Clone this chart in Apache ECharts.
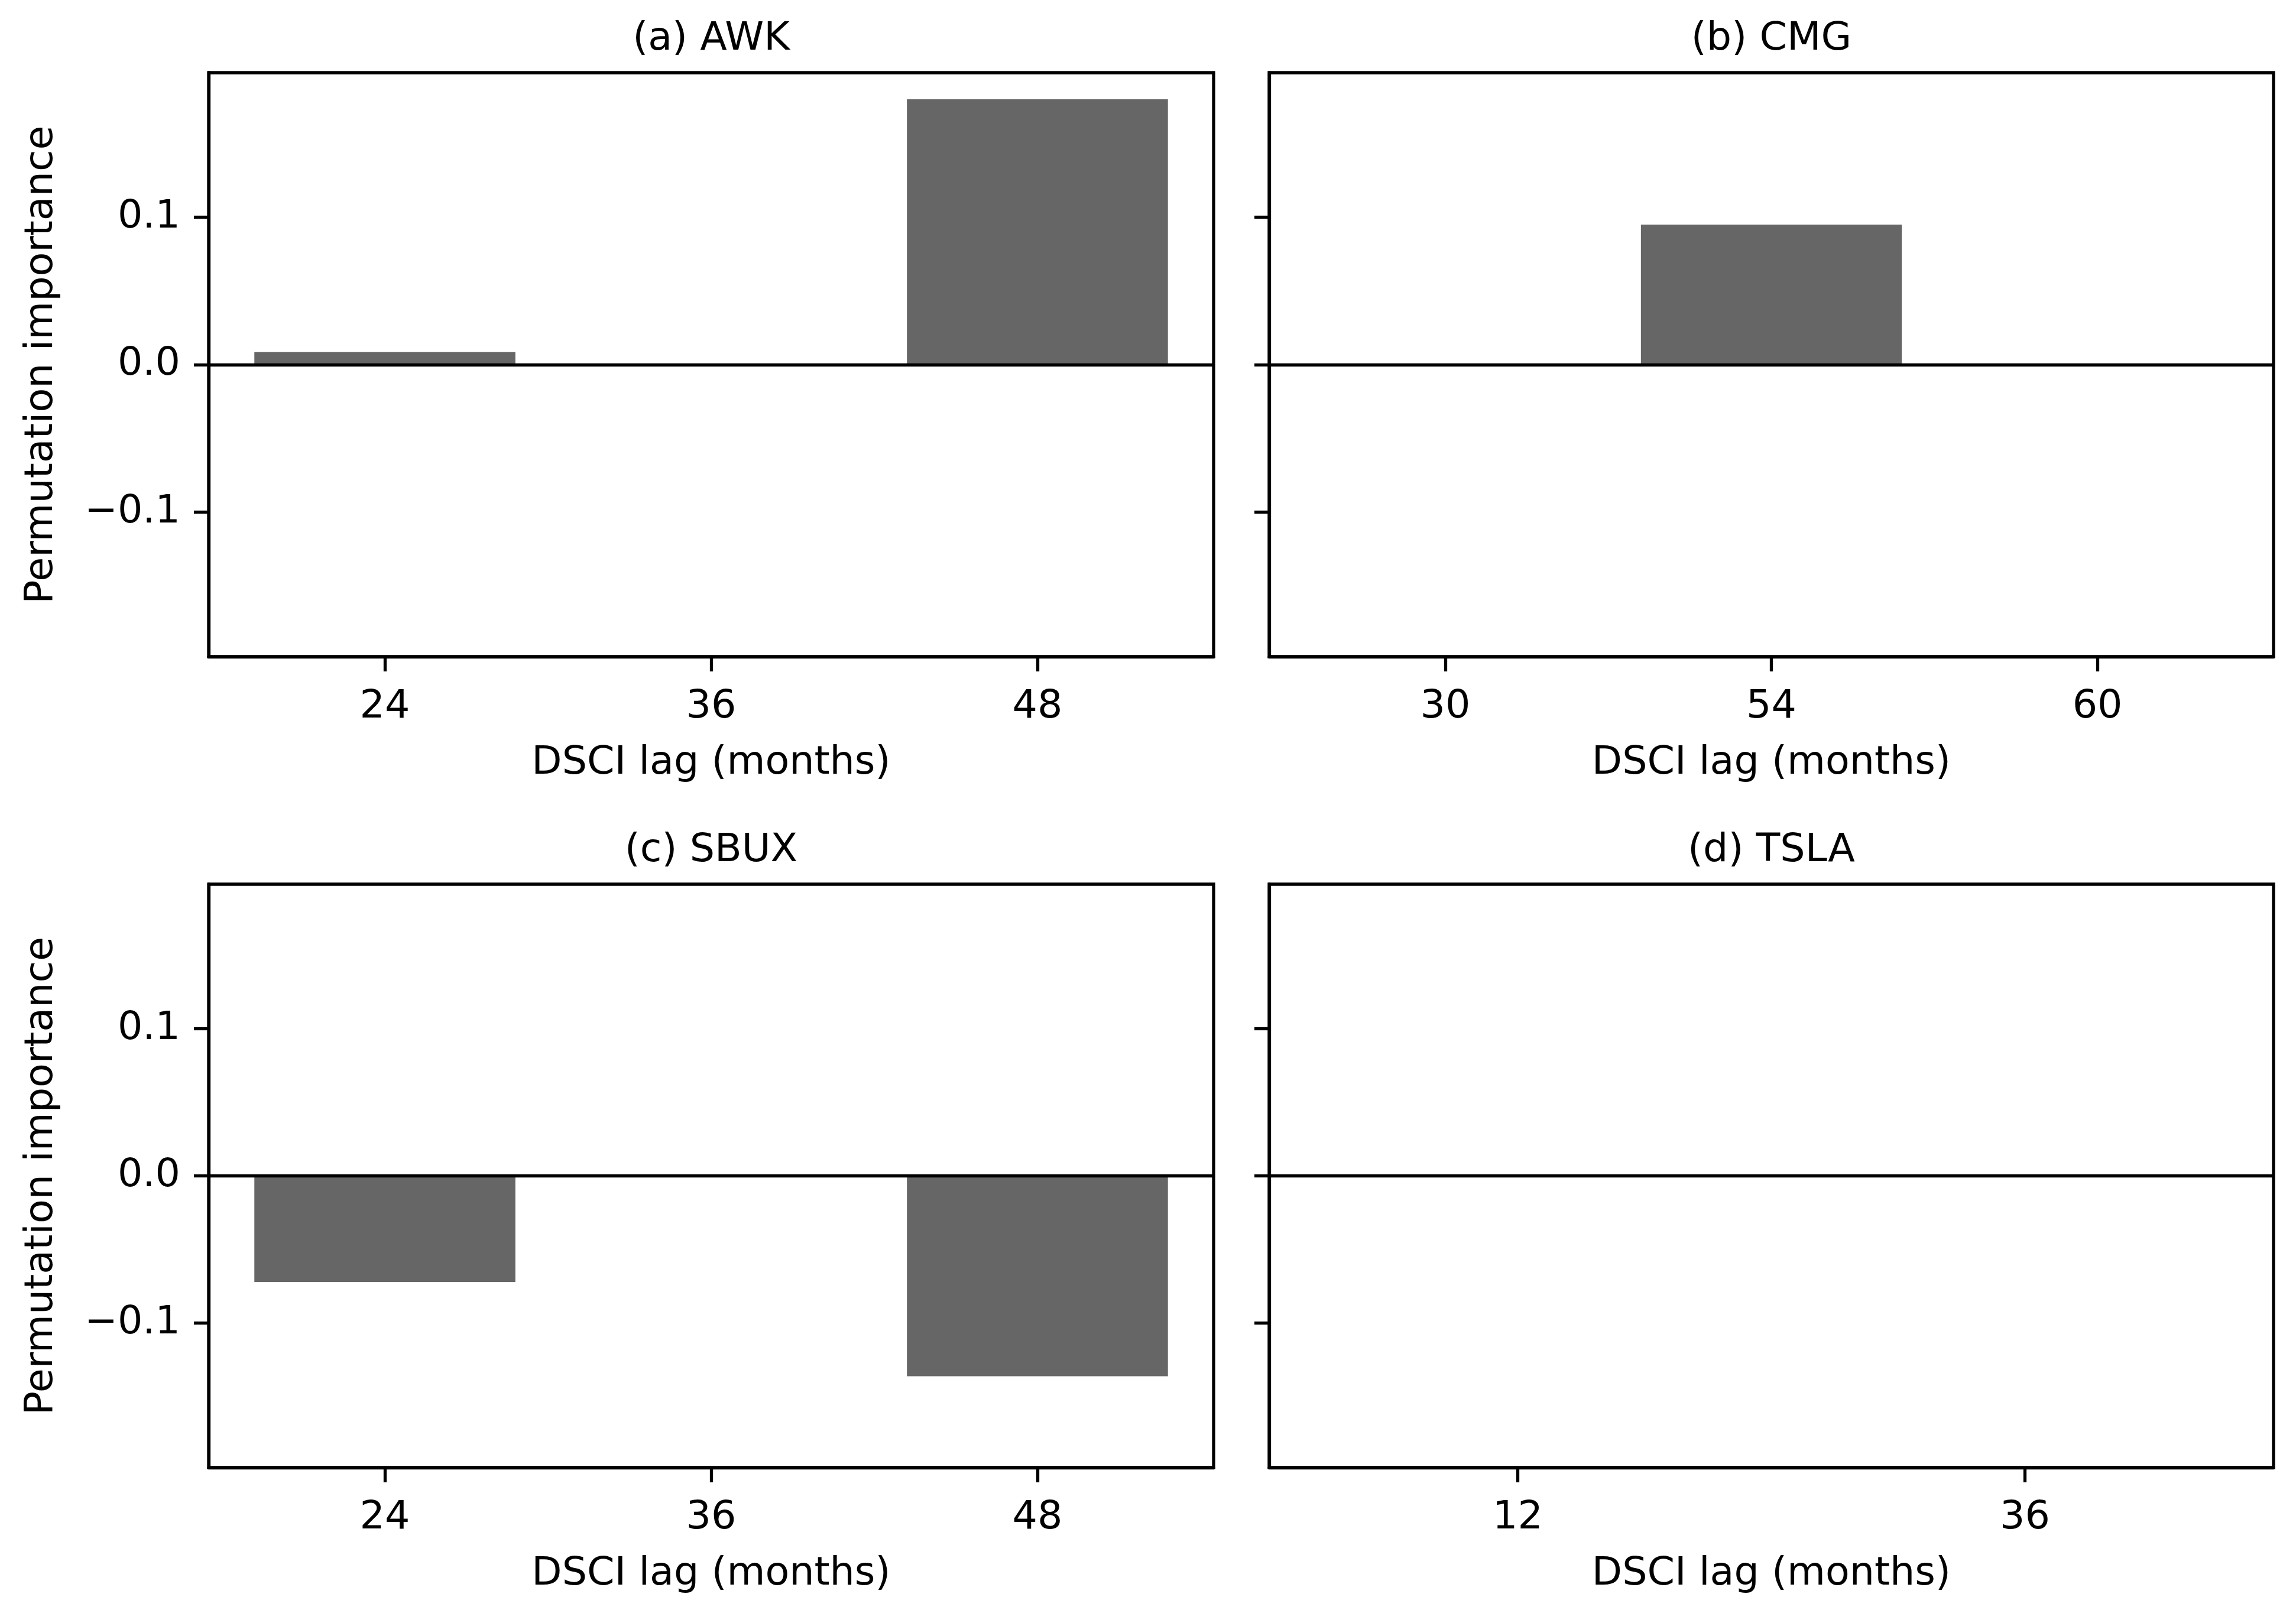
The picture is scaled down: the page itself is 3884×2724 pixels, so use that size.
<!DOCTYPE html>
<html>
<head>
<meta charset="utf-8">
<script src="https://cdn.jsdelivr.net/npm/echarts@6/dist/echarts.min.js"></script>
<style>
html,body{margin:0;padding:0;background:#fff;}
#chart{width:3884px;height:2724px;}
</style>
</head>
<body>
<div id="chart"></div>
<script>
// ---- data ----
const panelTitles = ['(a) AWK', '(b) CMG', '(c) SBUX', '(d) TSLA'];
const awkLags = ['24', '36', '48'];
const awkValues = [0.0085, 0, 0.18];
const cmgLags = ['30', '54', '60'];
const cmgValues = [0, 0.095, 0];
const sbuxLags = ['24', '36', '48'];
const sbuxValues = [-0.072, 0, -0.136];
const tslaLags = ['12', '36'];
const tslaValues = [0, 0];
const yTicks = [-0.1, 0, 0.1];
const yMin = -0.198, yMax = 0.198;
const xLabelText = 'DSCI lag (months)';
const yLabelText = 'Permutation importance';

// ---- layout / style ----
const FONT = 'DejaVu Sans';
const FS = 66.7;
const LW = 5.3;
const TICK_LEN = 25;
const BAR_COLOR = '#666666';
const gridsPx = [
  {left: 353, top: 123, width: 1700, height: 988},
  {left: 2147, top: 123, width: 1699, height: 988},
  {left: 353, top: 1496, width: 1700, height: 987},
  {left: 2147, top: 1496, width: 1699, height: 987}
];
const panels = [
  {lags: awkLags, values: awkValues},
  {lags: cmgLags, values: cmgValues},
  {lags: sbuxLags, values: sbuxValues},
  {lags: tslaLags, values: tslaValues}
];

function fmtY(v) {
  const a = Math.abs(v).toFixed(1);
  return (v < -1e-9 ? '\u2212' : '') + a;
}

const grid = [], xAxis = [], yAxis = [], series = [], title = [];
panels.forEach((p, i) => {
  const g = gridsPx[i];
  const n = p.lags.length;
  const span = (n - 1) + 0.8;
  const margin = span * 0.05;
  const xmin = -0.4 - margin, xmax = (n - 1) + 0.4 + margin;
  const pxPerUnit = g.width / (xmax - xmin);
  const isLeft = (i % 2 === 0);
  grid.push({left: g.left, top: g.top, width: g.width, height: g.height,
    show: true, borderColor: '#000', borderWidth: LW, backgroundColor: '#fff', containLabel: false, z: 0});
  title.push({text: panelTitles[i], left: g.left + g.width / 2, top: g.top - 90, textAlign: 'center', padding: 0,
    textStyle: {fontFamily: FONT, fontSize: FS, fontWeight: 'normal', color: '#000'}});
  const idx = p.lags.map((_, k) => k);
  xAxis.push({type: 'value', gridIndex: i, min: xmin, max: xmax, position: 'bottom', z: 5,
    axisLine: {show: true, onZero: false, lineStyle: {color: '#000', width: LW}}, splitLine: {show: false},
    axisTick: {show: true, inside: false, customValues: idx, length: TICK_LEN, lineStyle: {color: '#000', width: LW}},
    axisLabel: {show: true, customValues: idx, margin: 52, fontFamily: FONT, fontSize: FS, color: '#000',
      formatter: v => p.lags[Math.round(v)]},
    name: xLabelText, nameLocation: 'middle', nameGap: 147,
    nameTextStyle: {fontFamily: FONT, fontSize: FS, color: '#000'}});
  yAxis.push({type: 'value', gridIndex: i, min: yMin, max: yMax, position: 'left', z: 5,
    axisLine: {show: true, onZero: false, lineStyle: {color: '#000', width: LW}}, splitLine: {show: false},
    axisTick: {show: true, inside: false, customValues: yTicks, length: TICK_LEN, lineStyle: {color: '#000', width: LW}},
    axisLabel: {show: isLeft, customValues: yTicks, margin: 48, fontFamily: FONT, fontSize: FS, color: '#000',
      formatter: fmtY},
    name: isLeft ? yLabelText : '', nameLocation: 'middle', nameGap: 249,
    nameTextStyle: {fontFamily: FONT, fontSize: FS, color: '#000'}});
  series.push({type: 'bar', xAxisIndex: i, yAxisIndex: i,
    data: p.values.map((v, k) => [k, v]),
    barWidth: 0.8 * pxPerUnit,
    itemStyle: {color: BAR_COLOR},
    silent: true, animation: false,
    markLine: {silent: true, symbol: ['none', 'none'], label: {show: false},
      lineStyle: {color: '#000', width: LW, type: 'solid'}, data: [{yAxis: 0}], animation: false}
  });
});

const chart = echarts.init(document.getElementById('chart'), null, {renderer: 'canvas'});
chart.setOption({backgroundColor: '#fff', animation: false, title, grid, xAxis, yAxis, series});
</script>
</body>
</html>
